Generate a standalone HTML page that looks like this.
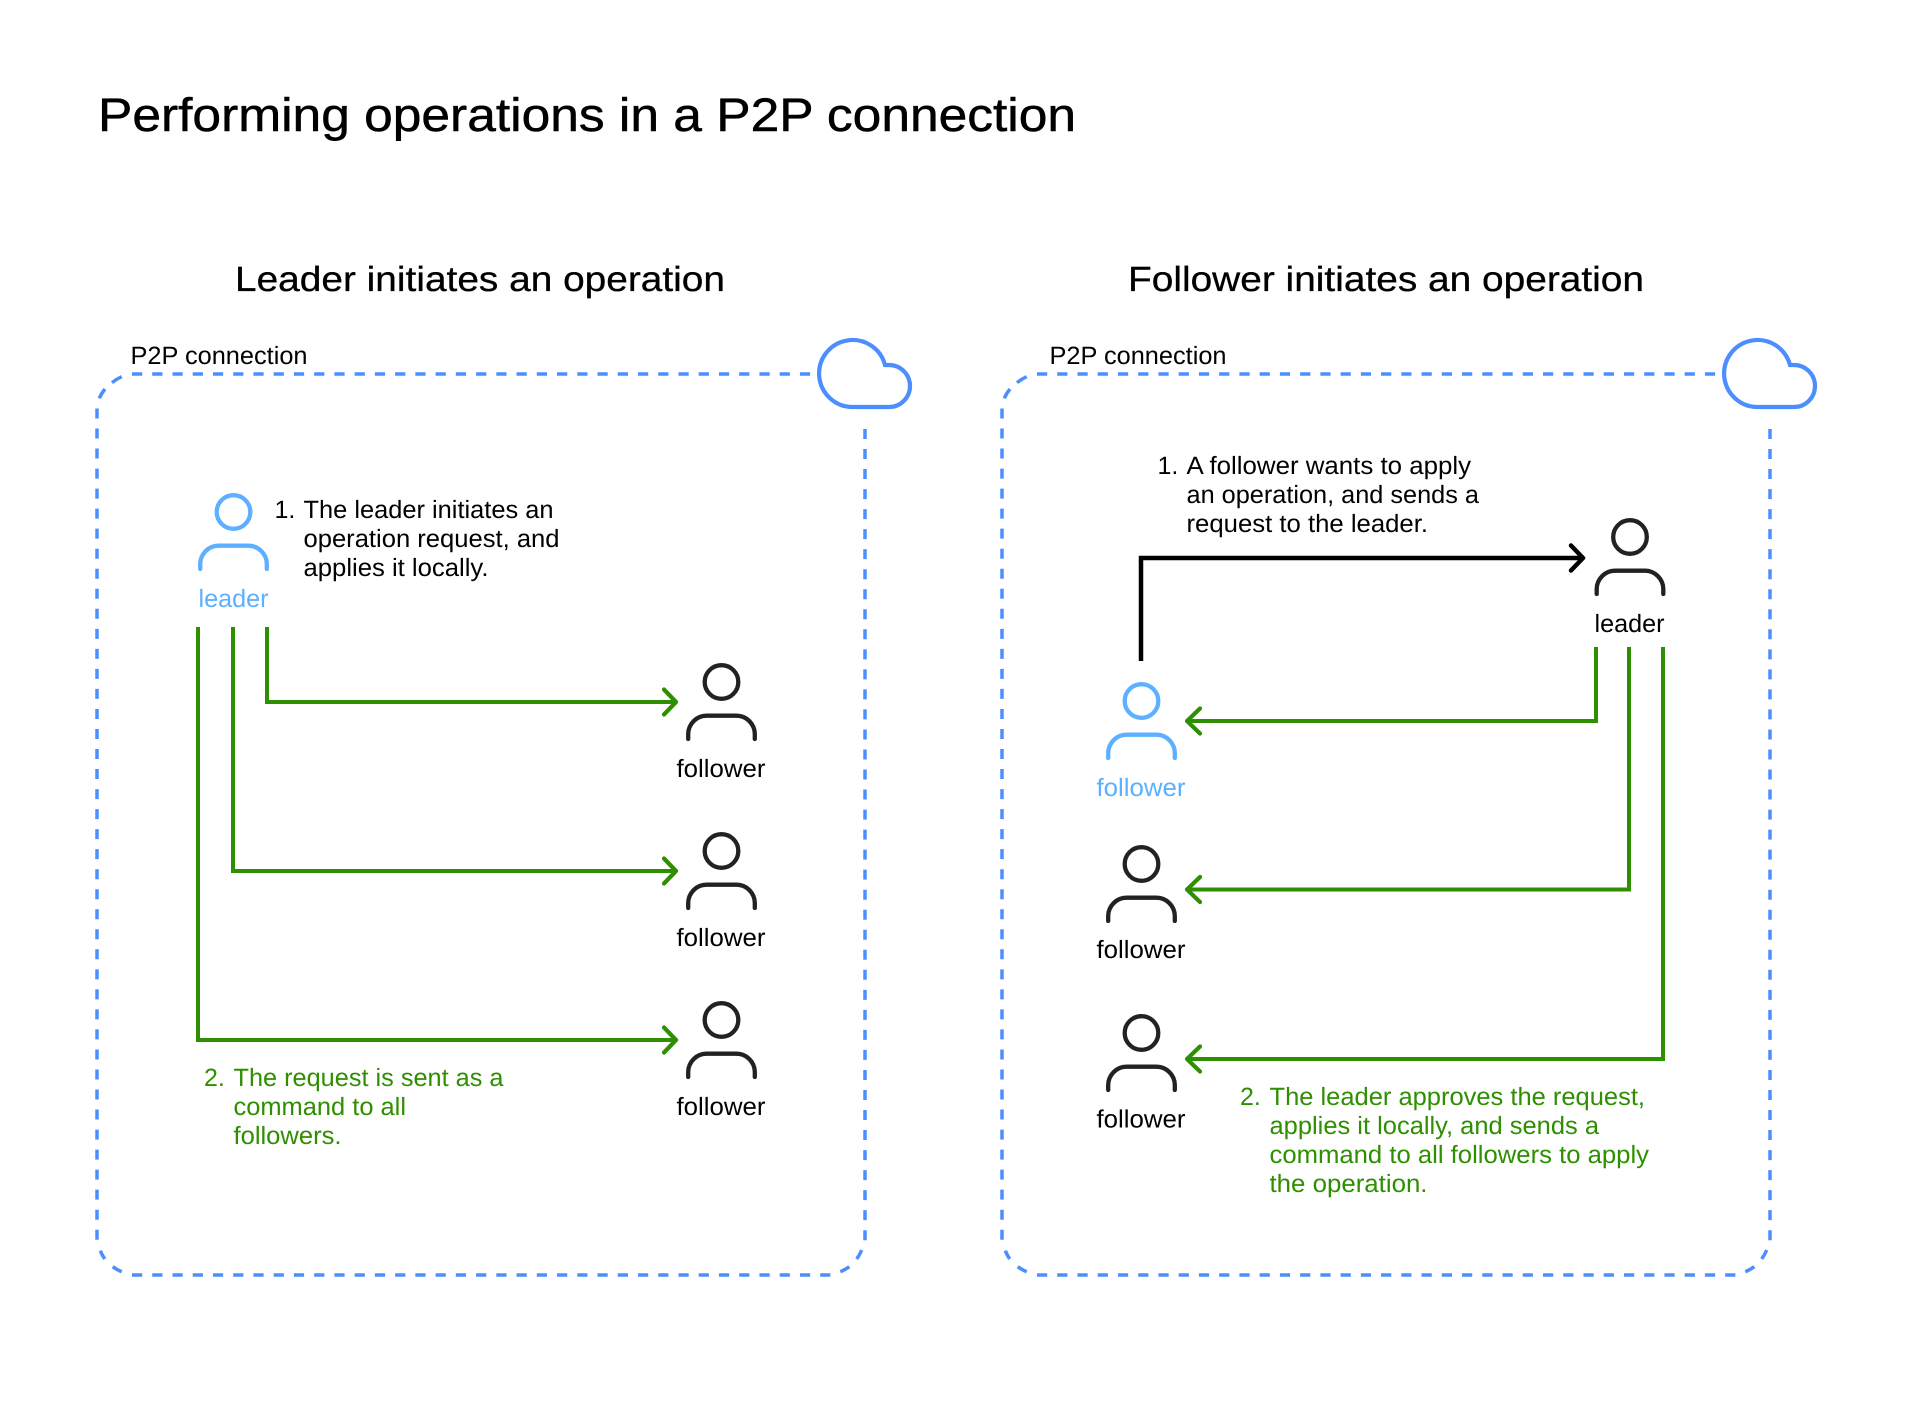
<!DOCTYPE html>
<html lang="en">
<head>
<meta charset="utf-8">
<title>Performing operations in a P2P connection</title>
<style>
html,body{margin:0;padding:0;background:#fff;width:1917px;height:1401px;overflow:hidden}
svg{display:block}
text{font-family:"Liberation Sans",sans-serif;fill:#000;text-rendering:geometricPrecision}
.t{font-size:47px;stroke:#000;stroke-width:.5px}
.h{font-size:35px;stroke:#000;stroke-width:.3px}
.l{font-size:25px}
.g{fill:#2e8f00}
.b{fill:#5cb0ff}
.dh{fill:none;stroke:#4d8eff;stroke-width:3.5;stroke-dasharray:10.2 10.04}
.dv{fill:none;stroke:#4d8eff;stroke-width:3.5;stroke-dasharray:10 10.03}
.dc{fill:none;stroke:#4d8eff;stroke-width:3.5}
.c{fill:#fff;stroke:#4d8eff;stroke-width:4.2;stroke-linejoin:miter}
.w{fill:none;stroke:#2e8f00;stroke-width:4;stroke-linejoin:miter}
.a{fill:none;stroke:#2e8f00;stroke-width:4.2;stroke-linecap:round;stroke-linejoin:round}
.k{fill:none;stroke:#000;stroke-width:4.5;stroke-linejoin:miter}
.ka{fill:none;stroke:#000;stroke-width:4.5;stroke-linecap:round;stroke-linejoin:round}
.pk{fill:none;stroke:#222;stroke-width:4.3;stroke-linecap:round}
.pb{fill:none;stroke:#5cb0ff;stroke-width:4.3;stroke-linecap:round}
</style>
</head>
<body>
<svg width="1917" height="1401" viewBox="0 0 1917 1401" xmlns="http://www.w3.org/2000/svg">
<defs>
<g id="panel">
<path class="dh" d="M132 374H811"/>
<path class="dh" d="M132 1275H831"/>
<path class="dv" d="M97 408.5V1241"/>
<path class="dv" d="M865 429V1241"/>
<path class="dc" d="M99.3 398.3Q101.6 393 105 389M112 382.7Q116.5 379 121.7 376.7"/>
<path class="dc" d="M100.3 1250.7Q102 1255 104.7 1259M112.7 1266.7Q117 1269.8 121.7 1271.7"/>
<path class="dc" d="M861.7 1250Q859.6 1255 856.7 1259M849.3 1266.7Q845 1269.8 840.3 1271.7"/>
<path class="c" d="M853 407A33.5 33.5 0 1 1 885 365H889A21 21 0 0 1 889 407Z"/>
</g>
<g id="body"><path d="M-33.3 57V52A18.5 18.5 0 0 1 -14.8 33.7H14.8A18.5 18.5 0 0 1 33.3 52V57"/><circle cx="0" cy="0" r="16.8"/></g>
</defs>

<rect width="1917" height="1401" fill="#fff"/>

<text class="t" x="98" y="131" textLength="978" lengthAdjust="spacingAndGlyphs">Performing operations in a P2P connection</text>

<text class="h" x="235" y="291" textLength="490" lengthAdjust="spacingAndGlyphs">Leader initiates an operation</text>
<text class="h" x="1128" y="291" textLength="516" lengthAdjust="spacingAndGlyphs">Follower initiates an operation</text>

<use href="#panel"/>
<use href="#panel" x="905"/>

<text class="l" x="130.5" y="364" textLength="177" lengthAdjust="spacingAndGlyphs">P2P connection</text>
<text class="l" x="1049.5" y="364" textLength="177" lengthAdjust="spacingAndGlyphs">P2P connection</text>

<!-- left panel -->
<use href="#body" class="pb" x="233.5" y="512"/>
<text class="l b" x="198.5" y="607" textLength="70" lengthAdjust="spacingAndGlyphs">leader</text>

<text class="l" x="274.5" y="518">1.</text>
<text class="l" x="303.5" y="518" textLength="250" lengthAdjust="spacingAndGlyphs">The leader initiates an</text>
<text class="l" x="303.5" y="547" textLength="256" lengthAdjust="spacingAndGlyphs">operation request, and</text>
<text class="l" x="303.5" y="576" textLength="185" lengthAdjust="spacingAndGlyphs">applies it locally.</text>

<path class="w" d="M267 627V702H675"/>
<path class="w" d="M233 627V871H675"/>
<path class="w" d="M198 627V1040H675"/>
<path class="a" d="M664 689.5L676 702L664 714.5"/>
<path class="a" d="M664 858.5L676 871L664 883.5"/>
<path class="a" d="M664 1027.5L676 1040L664 1052.5"/>

<use href="#body" class="pk" x="721.5" y="682"/>
<use href="#body" class="pk" x="721.5" y="851"/>
<use href="#body" class="pk" x="721.5" y="1020"/>
<text class="l" x="676.5" y="777" textLength="89" lengthAdjust="spacingAndGlyphs">follower</text>
<text class="l" x="676.5" y="946" textLength="89" lengthAdjust="spacingAndGlyphs">follower</text>
<text class="l" x="676.5" y="1115" textLength="89" lengthAdjust="spacingAndGlyphs">follower</text>

<text class="l g" x="204" y="1086">2.</text>
<text class="l g" x="233.5" y="1086" textLength="270" lengthAdjust="spacingAndGlyphs">The request is sent as a</text>
<text class="l g" x="233.5" y="1115" textLength="172.5" lengthAdjust="spacingAndGlyphs">command to all</text>
<text class="l g" x="233.5" y="1144" textLength="108" lengthAdjust="spacingAndGlyphs">followers.</text>

<!-- right panel -->
<text class="l" x="1157.5" y="474">1.</text>
<text class="l" x="1186.5" y="474" textLength="284.5" lengthAdjust="spacingAndGlyphs">A follower wants to apply</text>
<text class="l" x="1186.5" y="503" textLength="292.5" lengthAdjust="spacingAndGlyphs">an operation, and sends a</text>
<text class="l" x="1186.5" y="532" textLength="241.5" lengthAdjust="spacingAndGlyphs">request to the leader.</text>

<path class="k" d="M1141 661V558H1582"/>
<path class="ka" d="M1571 545.5L1583 558L1571 570.5"/>

<use href="#body" class="pk" x="1630" y="537"/>
<text class="l" x="1594.5" y="632" textLength="70" lengthAdjust="spacingAndGlyphs">leader</text>

<path class="w" d="M1596 647V721H1188"/>
<path class="w" d="M1629 647V889.5H1188"/>
<path class="w" d="M1663 647V1059H1188"/>
<path class="a" d="M1200 708.5L1187 721L1200 733.5"/>
<path class="a" d="M1200 877L1187 889.5L1200 902"/>
<path class="a" d="M1200 1046.5L1187 1059L1200 1071.5"/>

<use href="#body" class="pb" x="1141.5" y="701"/>
<text class="l b" x="1096.5" y="796" textLength="89" lengthAdjust="spacingAndGlyphs">follower</text>
<use href="#body" class="pk" x="1141.5" y="864"/>
<text class="l" x="1096.5" y="958" textLength="89" lengthAdjust="spacingAndGlyphs">follower</text>
<use href="#body" class="pk" x="1141.5" y="1033"/>
<text class="l" x="1096.5" y="1127.5" textLength="89" lengthAdjust="spacingAndGlyphs">follower</text>

<text class="l g" x="1240" y="1105">2.</text>
<text class="l g" x="1269.5" y="1105" textLength="375.5" lengthAdjust="spacingAndGlyphs">The leader approves the request,</text>
<text class="l g" x="1269.5" y="1134" textLength="329.5" lengthAdjust="spacingAndGlyphs">applies it locally, and sends a</text>
<text class="l g" x="1269.5" y="1163" textLength="379.5" lengthAdjust="spacingAndGlyphs">command to all followers to apply</text>
<text class="l g" x="1269.5" y="1192" textLength="158" lengthAdjust="spacingAndGlyphs">the operation.</text>
</svg>
</body>
</html>
